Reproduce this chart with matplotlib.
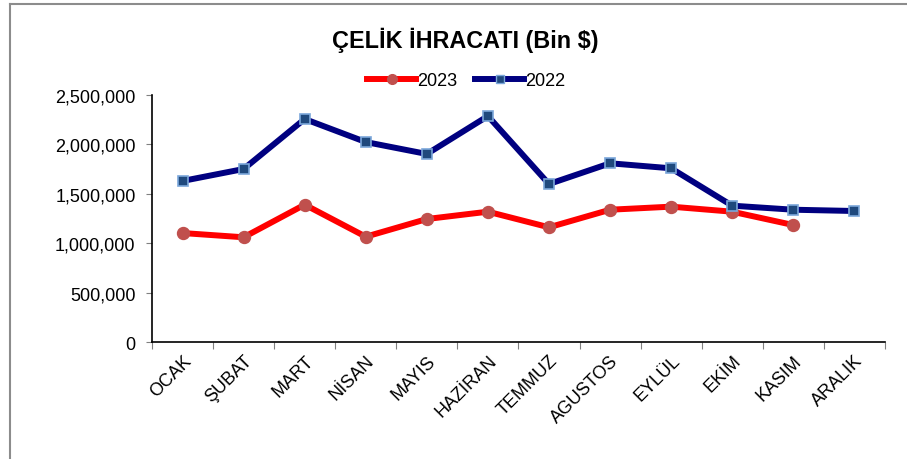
import matplotlib
matplotlib.use("Agg")
import matplotlib.pyplot as plt
from matplotlib.lines import Line2D

plt.rcParams['font.family'] = ['Liberation Sans', 'DejaVu Sans']

# --- data (Bin $) ---
months = ['OCAK', 'ŞUBAT', 'MART', 'NİSAN', 'MAYIS', 'HAZİRAN',
          'TEMMUZ', 'AGUSTOS', 'EYLÜL', 'EKİM', 'KASIM', 'ARALIK']
exports_2023 = [1103000, 1060000, 1390000, 1066000, 1245000, 1319000,
                1161000, 1339000, 1370000, 1319000, 1184000]
exports_2022 = [1630000, 1751000, 2257000, 2024000, 1903000, 2287000,
                1599000, 1809000, 1758000, 1380000, 1339000, 1326000]
y_ticks = [0, 500000, 1000000, 1500000, 2000000, 2500000]

C_RED = '#FF0000'
C_RED_MK = '#C0504D'
C_NAVY = '#000080'
C_SQ = '#1F497D'
C_SQ_EDGE = '#7BA7DA'

fig = plt.figure(figsize=(9.07, 4.6), dpi=100)
ax = fig.add_axes([0.1676, 0.2543, 0.808, 0.537])

x23 = list(range(len(exports_2023)))
x22 = list(range(len(exports_2022)))
ax.plot(x23, exports_2023, color=C_RED, linewidth=4.3, marker='o',
        markersize=8.6, markerfacecolor=C_RED_MK, markeredgecolor=C_RED_MK,
        solid_joinstyle='round', zorder=3)
ax.plot(x22, exports_2022, color=C_NAVY, linewidth=4.3, marker='s',
        markersize=7.5, markerfacecolor=C_SQ, markeredgecolor=C_SQ_EDGE,
        markeredgewidth=1.2, solid_joinstyle='round', zorder=4)

ax.set_xlim(-0.5, len(months) - 0.5)
ax.set_ylim(0, 2500000)
ax.set_yticks(y_ticks)
ax.set_yticklabels([f'{v:,}' for v in y_ticks], fontsize=13)

# category ticks sit between months, labels at the centres
ax.set_xticks([i - 0.5 for i in range(len(months) + 1)])
ax.set_xticklabels([])
ax.set_xticks(range(len(months)), minor=True)
ax.set_xticklabels(months, minor=True, rotation=45, ha='right', va='top',
                   rotation_mode='anchor', fontsize=13)
ax.tick_params(axis='x', which='minor', length=0, pad=7)
ax.tick_params(axis='x', which='major', length=5, width=0.8, color='#808080')
ax.tick_params(axis='y', length=4.3, width=0.8, color='#808080', pad=7.5)

for s in ['top', 'right']:
    ax.spines[s].set_visible(False)
ax.spines['left'].set_linewidth(1.2)
ax.spines['bottom'].set_linewidth(1.2)

fig.text(0.513, 0.913, 'ÇELİK İHRACATI (Bin $)', ha='center', va='center',
         fontsize=16.8, fontweight='bold')

handles = [
    Line2D([], [], color=C_RED, linewidth=4.3, marker='o', markersize=7,
           markerfacecolor=C_RED_MK, markeredgecolor=C_RED_MK),
    Line2D([], [], color=C_NAVY, linewidth=4.3, marker='s', markersize=6,
           markerfacecolor=C_SQ, markeredgecolor=C_SQ_EDGE),
]
fig.legend(handles, ['2023', '2022'], loc='center', bbox_to_anchor=(0.514, 0.822),
           ncol=2, frameon=False, handlelength=2.7, handletextpad=0.05,
           columnspacing=1.0, prop={'size': 13})

# outer chart frame (top and left edges visible)
fig.add_artist(Line2D([10 / 907, 1.0], [1 - 5 / 460, 1 - 5 / 460],
                      transform=fig.transFigure, color='#8C8C8C', linewidth=1.5))
fig.add_artist(Line2D([10 / 907, 10 / 907], [0, 1 - 5 / 460],
                      transform=fig.transFigure, color='#8C8C8C', linewidth=1.5))

fig.savefig('out.png', dpi=100)
